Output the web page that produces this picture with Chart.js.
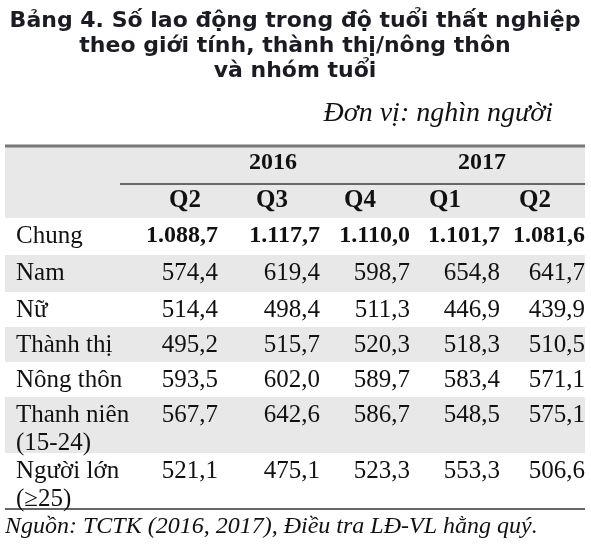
<!DOCTYPE html>
<html><head><meta charset="utf-8">
<script src="https://cdn.jsdelivr.net/npm/chart.js@4"></script>
<style>html,body{margin:0;padding:0;background:#fff}#w{width:591px;height:549px}</style>
</head><body><div id="w"><canvas id="c"></canvas></div>
<script>
const titleLines = ["Bảng 4. Số lao động trong độ tuổi thất nghiệp", "theo giới tính, thành thị/nông thôn", "và nhóm tuổi"];
const unitText = "Đơn vị: nghìn người";
const years = ["2016", "2017"];
const quarters = ["Q2", "Q3", "Q4", "Q1", "Q2"];
const rowLabels = [["Chung"], ["Nam"], ["Nữ"], ["Thành thị"], ["Nông thôn"], ["Thanh niên", "(15-24)"], ["Người lớn", "(≥25)"]];
const values = [
  [1088.7, 1117.7, 1110.0, 1101.7, 1081.6],
  [574.4, 619.4, 598.7, 654.8, 641.7],
  [514.4, 498.4, 511.3, 446.9, 439.9],
  [495.2, 515.7, 520.3, 518.3, 510.5],
  [593.5, 602.0, 589.7, 583.4, 571.1],
  [567.7, 642.6, 586.7, 548.5, 575.1],
  [521.1, 475.1, 523.3, 553.3, 506.6]
];
const sourceText = "Nguồn: TCTK (2016, 2017), Điều tra LĐ-VL hằng quý.";

// layout (page units)
const colRight = [218, 320, 410, 500, 585];
const colCenter = [185, 272, 360, 445, 535];
const rowTop = [218, 255, 292, 327, 362, 397, 453, 509];
const fmt = v => v.toLocaleString('de-DE', {minimumFractionDigits:1, maximumFractionDigits:1});

const tablePlugin = {
  id: 'table',
  afterDraw(chart) {
    const {ctx, scales:{x, y}} = chart;
    const X = v => x.getPixelForValue(v), Y = v => y.getPixelForValue(v);
    ctx.save();
    ctx.textBaseline = 'middle';
    // title, sized to fit the reference width
    ctx.fillStyle = '#1b1b24';
    ctx.font = 'bold 22px "DejaVu Sans"';
    const w0 = ctx.measureText(titleLines[0]).width;
    const fs = 22 * (X(580) - X(10)) / w0;
    ctx.font = 'bold ' + fs.toFixed(1) + 'px "DejaVu Sans"';
    ctx.textAlign = 'center';
    titleLines.forEach((t, i) => ctx.fillText(t, X(295), Y(21 + i * 25)));
    ctx.fillStyle = '#111';
    ctx.font = 'italic 28px "Liberation Serif"';
    ctx.textAlign = 'right';
    ctx.fillText(unitText, X(553), Y(114));
    // header background
    ctx.fillStyle = '#e8e8e8';
    ctx.fillRect(X(5), Y(146), X(585) - X(5), Y(218) - Y(146));
    // row backgrounds
    for (let r = 0; r < rowLabels.length; r++) {
      if (r % 2 === 1) {
        ctx.fillRect(X(5), Y(rowTop[r]), X(585) - X(5), Y(rowTop[r + 1]) - Y(rowTop[r]));
      }
    }
    ctx.strokeStyle = '#777'; ctx.lineWidth = 3;
    ctx.beginPath(); ctx.moveTo(X(5), Y(146)); ctx.lineTo(X(585), Y(146)); ctx.stroke();
    ctx.lineWidth = 2; ctx.strokeStyle = '#666';
    ctx.beginPath(); ctx.moveTo(X(120), Y(184)); ctx.lineTo(X(585), Y(184)); ctx.stroke();
    ctx.beginPath(); ctx.moveTo(X(5), Y(rowTop[rowTop.length - 1])); ctx.lineTo(X(585), Y(rowTop[rowTop.length - 1])); ctx.stroke();
    // header text
    ctx.fillStyle = '#111';
    ctx.font = 'bold 24px "Liberation Serif"';
    ctx.textAlign = 'center';
    ctx.fillText(years[0], X(273), Y(163));
    ctx.fillText(years[1], X(482), Y(163));
    ctx.font = 'bold 25px "Liberation Serif"';
    quarters.forEach((q, i) => ctx.fillText(q, X(colCenter[i]), Y(201)));
    // cells
    rowLabels.forEach((lab, r) => {
      const y0 = rowTop[r] + 18;
      ctx.font = '25px "Liberation Serif"';
      ctx.textAlign = 'left';
      lab.forEach((l, k) => ctx.fillText(l, X(16), Y(y0 + k * 28)));
      ctx.font = (r === 0 ? 'bold 24px' : '25px') + ' "Liberation Serif"';
      ctx.textAlign = 'right';
      values[r].forEach((v, c) => ctx.fillText(fmt(v), X(colRight[c]), Y(y0)));
    });
    ctx.font = 'italic 24px "Liberation Serif"';
    ctx.textAlign = 'left';
    ctx.fillText(sourceText, X(5), Y(527));
    ctx.restore();
  }
};

new Chart(document.getElementById('c'), {
  type: 'scatter',
  data: { datasets: [{ data: [], pointRadius: 0 }] },
  options: {
    responsive: true, maintainAspectRatio: false, animation: false,
    layout: { padding: 0 },
    plugins: { legend: { display: false }, tooltip: { enabled: false } },
    scales: {
      x: { type: 'linear', min: 0, max: 591, display: false },
      y: { type: 'linear', min: 0, max: 549, reverse: true, display: false }
    }
  },
  plugins: [tablePlugin]
});
</script></body></html>
